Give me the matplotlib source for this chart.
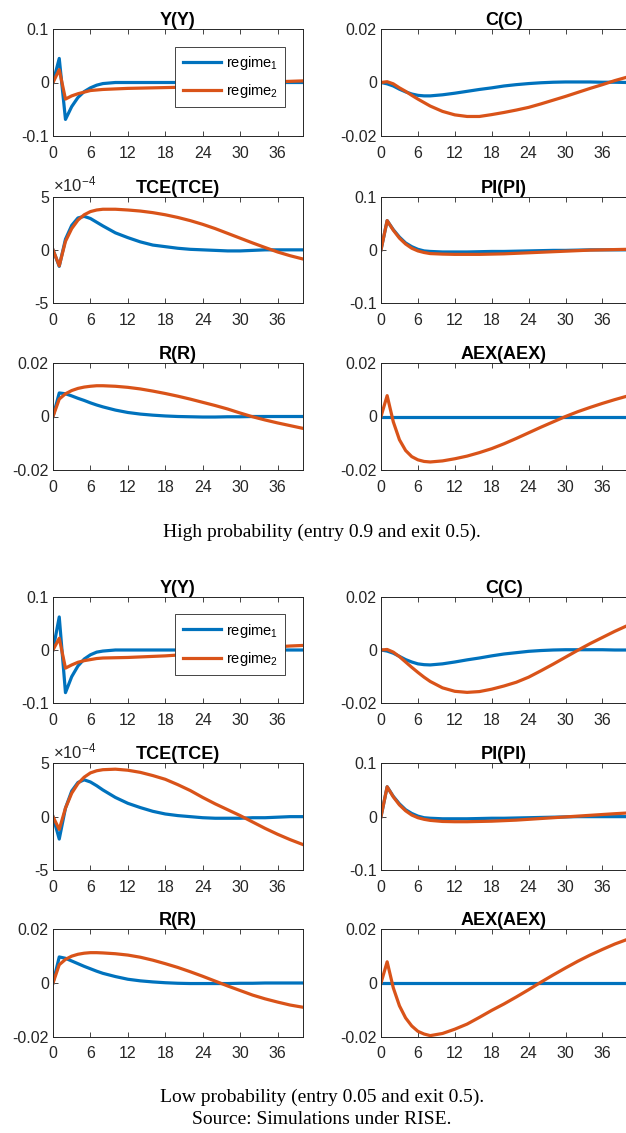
import numpy as np
import matplotlib.pyplot as plt

plt.rcParams['font.family'] = ['Liberation Sans', 'DejaVu Sans']
plt.rcParams['mathtext.fontset'] = 'custom'
plt.rcParams['mathtext.rm'] = 'Liberation Sans'
plt.rcParams['mathtext.it'] = 'Liberation Sans:italic'
plt.rcParams['mathtext.bf'] = 'Liberation Sans:bold'

# horizon (periods after the shock)
periods = [0, 1, 2, 3, 4, 5, 6, 7, 8, 10, 12, 14, 16, 18, 20, 22, 24, 26, 28, 30, 32, 34, 36, 38, 40]

# --- high probability (entry 0.9, exit 0.5) ---
hi_y_r1 = [0, 0.045, -0.069, -0.045, -0.028, -0.017, -0.010, -0.005, -0.002, 0, 0, 0, 0, 0, 0, 0, 0, 0, 0, 0, 0, 0, 0, 0, 0]
hi_y_r2 = [0, 0.024, -0.031, -0.025, -0.021, -0.018, -0.015, -0.014, -0.013, -0.012, -0.011, -0.0105, -0.010, -0.0095,
           -0.009, -0.008, -0.007, -0.0055, -0.004, -0.0025, -0.001, 0.0005, 0.0015, 0.0022, 0.003]
hi_c_r1 = [0, -0.0005, -0.0013, -0.0025, -0.0035, -0.0043, -0.0048, -0.005, -0.005, -0.0046, -0.004, -0.0033, -0.0026,
           -0.002, -0.0013, -0.0008, -0.0004, -0.0001, 0.0001, 0.0002, 0.0002, 0.0002, 0.0001, 0.0001, 0]
hi_c_r2 = [0, 0.0003, -0.0005, -0.002, -0.0033, -0.0048, -0.0062, -0.0075, -0.0088, -0.0108, -0.0121, -0.0127, -0.0127,
           -0.012, -0.0112, -0.0103, -0.0093, -0.008, -0.0066, -0.0052, -0.0037, -0.0022, -0.0008, 0.0007, 0.002]
hi_tce_r1 = [0, -1.55, 1.0, 2.3, 3.0, 3.15, 2.95, 2.6, 2.25, 1.6, 1.15, 0.75, 0.45, 0.3, 0.15, 0.05, 0, -0.05, -0.1,
             -0.1, -0.05, 0, 0, 0, 0]  # x 1e-4
hi_tce_r2 = [0, -1.5, 0.8, 2.0, 2.8, 3.3, 3.6, 3.75, 3.82, 3.82, 3.75, 3.65, 3.5, 3.3, 3.05, 2.75, 2.4, 2.0, 1.55,
             1.1, 0.65, 0.22, -0.2, -0.55, -0.85]  # x 1e-4
hi_pi_r1 = [0, 0.055, 0.038, 0.024, 0.013, 0.006, 0.001, -0.002, -0.003, -0.004, -0.004, -0.004, -0.0035, -0.003,
            -0.003, -0.0025, -0.002, -0.0015, -0.001, -0.001, -0.0005, 0, 0, 0, 0]
hi_pi_r2 = [0, 0.055, 0.037, 0.022, 0.011, 0.003, -0.002, -0.005, -0.007, -0.008, -0.0085, -0.0085, -0.0085, -0.008,
            -0.0075, -0.0065, -0.0055, -0.0045, -0.0035, -0.0025, -0.0015, -0.0005, 0, 0.0005, 0.001]
hi_r_r1 = [0, 0.0088, 0.0085, 0.0077, 0.0068, 0.006, 0.0051, 0.0043, 0.0036, 0.0024, 0.0015, 0.0009, 0.0005, 0.0002,
           0, -0.0001, -0.0002, -0.0002, -0.0001, -0.0001, 0, 0, 0, 0, 0]
hi_r_r2 = [0, 0.0065, 0.0085, 0.0097, 0.0105, 0.011, 0.0113, 0.0115, 0.0115, 0.0113, 0.0109, 0.0103, 0.0095, 0.0086,
           0.0076, 0.0065, 0.0053, 0.0041, 0.0028, 0.0013, -0.0001, -0.0013, -0.0024, -0.0034, -0.0044]
hi_aex_r1 = [0] * 25
hi_aex_r2 = [0, 0.0078, -0.002, -0.0087, -0.0127, -0.015, -0.0162, -0.0168, -0.017, -0.0166, -0.0158, -0.0148,
             -0.0135, -0.012, -0.0102, -0.0082, -0.0061, -0.004, -0.002, 0, 0.0018, 0.0034, 0.0049, 0.0063, 0.0076]

# --- low probability (entry 0.05, exit 0.5) ---
lo_y_r1 = [0, 0.062, -0.080, -0.050, -0.030, -0.017, -0.009, -0.004, -0.002, 0, 0, 0, 0, 0, 0, 0, 0, 0, 0, 0, 0, 0, 0, 0, 0]
lo_y_r2 = [0, 0.022, -0.034, -0.028, -0.023, -0.020, -0.018, -0.016, -0.015, -0.0145, -0.014, -0.013, -0.012, -0.011,
           -0.0095, -0.008, -0.006, -0.004, -0.002, 0, 0.002, 0.004, 0.006, 0.0075, 0.0085]
lo_c_r1 = [0, -0.0004, -0.0012, -0.0024, -0.0036, -0.0045, -0.0052, -0.0055, -0.0056, -0.0052, -0.0045, -0.0037, -0.003,
           -0.0022, -0.0015, -0.001, -0.0005, -0.0002, 0, 0.0001, 0.0001, 0.0001, 0.0001, 0, 0]
lo_c_r2 = [0, 0.0002, -0.0008, -0.0025, -0.0045, -0.0065, -0.0084, -0.0102, -0.0118, -0.0142, -0.0155, -0.0159, -0.0156,
           -0.0147, -0.0135, -0.0121, -0.0102, -0.0078, -0.0053, -0.0027, -0.0001, 0.0024, 0.0047, 0.007, 0.0091]
lo_tce_r1 = [0, -2.1, 0.8, 2.4, 3.2, 3.45, 3.25, 2.9, 2.5, 1.8, 1.25, 0.85, 0.5, 0.25, 0.1, 0, -0.1, -0.15, -0.15,
             -0.15, -0.1, -0.1, -0.05, 0, 0]  # x 1e-4
lo_tce_r2 = [0, -1.2, 0.8, 2.2, 3.1, 3.7, 4.1, 4.3, 4.4, 4.45, 4.35, 4.15, 3.85, 3.5, 3.0, 2.45, 1.8, 1.2, 0.65, 0.1,
             -0.5, -1.1, -1.65, -2.15, -2.6]  # x 1e-4
lo_pi_r1 = [0, 0.056, 0.038, 0.024, 0.013, 0.006, 0.001, -0.002, -0.003, -0.004, -0.004, -0.004, -0.0035, -0.003,
            -0.003, -0.0025, -0.002, -0.0015, -0.001, -0.0005, 0, 0, 0, 0, 0]
lo_pi_r2 = [0, 0.056, 0.037, 0.022, 0.011, 0.003, -0.002, -0.005, -0.007, -0.009, -0.0095, -0.0095, -0.009, -0.0085,
            -0.0075, -0.0065, -0.005, -0.0035, -0.002, -0.0005, 0.001, 0.0025, 0.004, 0.0055, 0.0068]
lo_r_r1 = [0, 0.0097, 0.0092, 0.0082, 0.0072, 0.0062, 0.0053, 0.0044, 0.0036, 0.0024, 0.0014, 0.0008, 0.0004, 0.0001,
           -0.0001, -0.0002, -0.0002, -0.0002, -0.0002, -0.0001, -0.0001, 0, 0, 0, 0]
lo_r_r2 = [0, 0.0068, 0.0088, 0.01, 0.0107, 0.0111, 0.0113, 0.0113, 0.0112, 0.0109, 0.0104, 0.0096, 0.0085, 0.0072,
           0.0058, 0.0042, 0.0025, 0.0007, -0.0011, -0.0028, -0.0045, -0.0059, -0.0071, -0.0082, -0.009]
lo_aex_r1 = [0] * 25
lo_aex_r2 = [0, 0.0079, -0.0018, -0.0085, -0.013, -0.016, -0.018, -0.019, -0.0196, -0.0188, -0.0172, -0.0153, -0.0128,
             -0.0102, -0.0078, -0.0052, -0.0025, 0.0003, 0.003, 0.0056, 0.0081, 0.0104, 0.0125, 0.0145, 0.0162]

titles = ['Y(Y)', 'C(C)', 'TCE(TCE)', 'PI(PI)', 'R(R)', 'AEX(AEX)']
ylims = [0.1, 0.02, 5, 0.1, 0.02, 0.02]
ylabels = [['-0.1', '0', '0.1'], ['-0.02', '0', '0.02'], ['-5', '0', '5'],
           ['-0.1', '0', '0.1'], ['-0.02', '0', '0.02'], ['-0.02', '0', '0.02']]
hi_series = [(hi_y_r1, hi_y_r2), (hi_c_r1, hi_c_r2), (hi_tce_r1, hi_tce_r2),
             (hi_pi_r1, hi_pi_r2), (hi_r_r1, hi_r_r2), (hi_aex_r1, hi_aex_r2)]
lo_series = [(lo_y_r1, lo_y_r2), (lo_c_r1, lo_c_r2), (lo_tce_r1, lo_tce_r2),
             (lo_pi_r1, lo_pi_r2), (lo_r_r1, lo_r_r2), (lo_aex_r1, lo_aex_r2)]

BLUE = '#0072BD'
ORANGE = '#D95319'
DARK = '#262626'
W, H = 626, 1133

fig = plt.figure(figsize=(W / 100, H / 100), dpi=100)


def box(left, top, right, bottom):
    return [left / W, 1 - bottom / H, (right - left) / W, (bottom - top) / H]


def draw_block(series, rows):
    for i, (r1, r2) in enumerate(series):
        top, bottom = rows[i // 2]
        if i % 2 == 0:
            ax = fig.add_axes(box(53, top, 302.5, bottom))
        else:
            ax = fig.add_axes(box(381, top, 627, bottom))
        ax.plot(periods, r1, color=BLUE, lw=2.3, label='regime$_1$')
        ax.plot(periods, r2, color=ORANGE, lw=2.3, label='regime$_2$')
        ax.set_xlim(0, 40)
        ax.set_ylim(-ylims[i], ylims[i])
        ax.set_xticks(range(0, 37, 6))
        ax.set_yticks([-ylims[i], 0, ylims[i]], ylabels[i])
        ax.tick_params(direction='in', top=True, right=True, length=3.5, width=0.6,
                       labelsize=11.5, colors=DARK, labelcolor=DARK)
        ax.tick_params(axis='x', pad=7)
        ax.tick_params(axis='y', pad=3)
        for s in ax.spines.values():
            s.set_color(DARK)
            s.set_linewidth(0.7)
        ax.set_title(titles[i], fontsize=13, fontweight='bold', pad=3)
        if i == 2:
            ax.text(0.0, 1.02, r'$\times10^{-4}$', transform=ax.transAxes, ha='left', va='bottom',
                    fontsize=12, color=DARK)
        if i == 0:
            leg = ax.legend(loc='upper right', bbox_to_anchor=(0.93, 0.835), borderaxespad=0,
                            fontsize=10.5, fancybox=False, framealpha=1, edgecolor=DARK,
                            handlelength=2.6, handletextpad=0.35, labelspacing=0.7, borderpad=0.5)
            leg.get_frame().set_linewidth(0.6)


draw_block(hi_series, [(29, 136), (196.7, 303), (363, 470)])
draw_block(lo_series, [(596.7, 703.3), (763.3, 870), (929.3, 1036.7)])

serif = ['Liberation Serif', 'DejaVu Serif']
fig.text(322 / W, 1 - 532 / H, 'High probability (entry 0.9 and exit 0.5).', ha='center', va='center',
         family=serif, fontsize=14)
fig.text(322 / W, 1 - 1097 / H, 'Low probability (entry 0.05 and exit 0.5).', ha='center', va='center',
         family=serif, fontsize=14)
fig.text(322 / W, 1 - 1120 / H, 'Source: Simulations under RISE.', ha='center', va='center',
         family=serif, fontsize=14)

fig.savefig('out.png', dpi=100)
